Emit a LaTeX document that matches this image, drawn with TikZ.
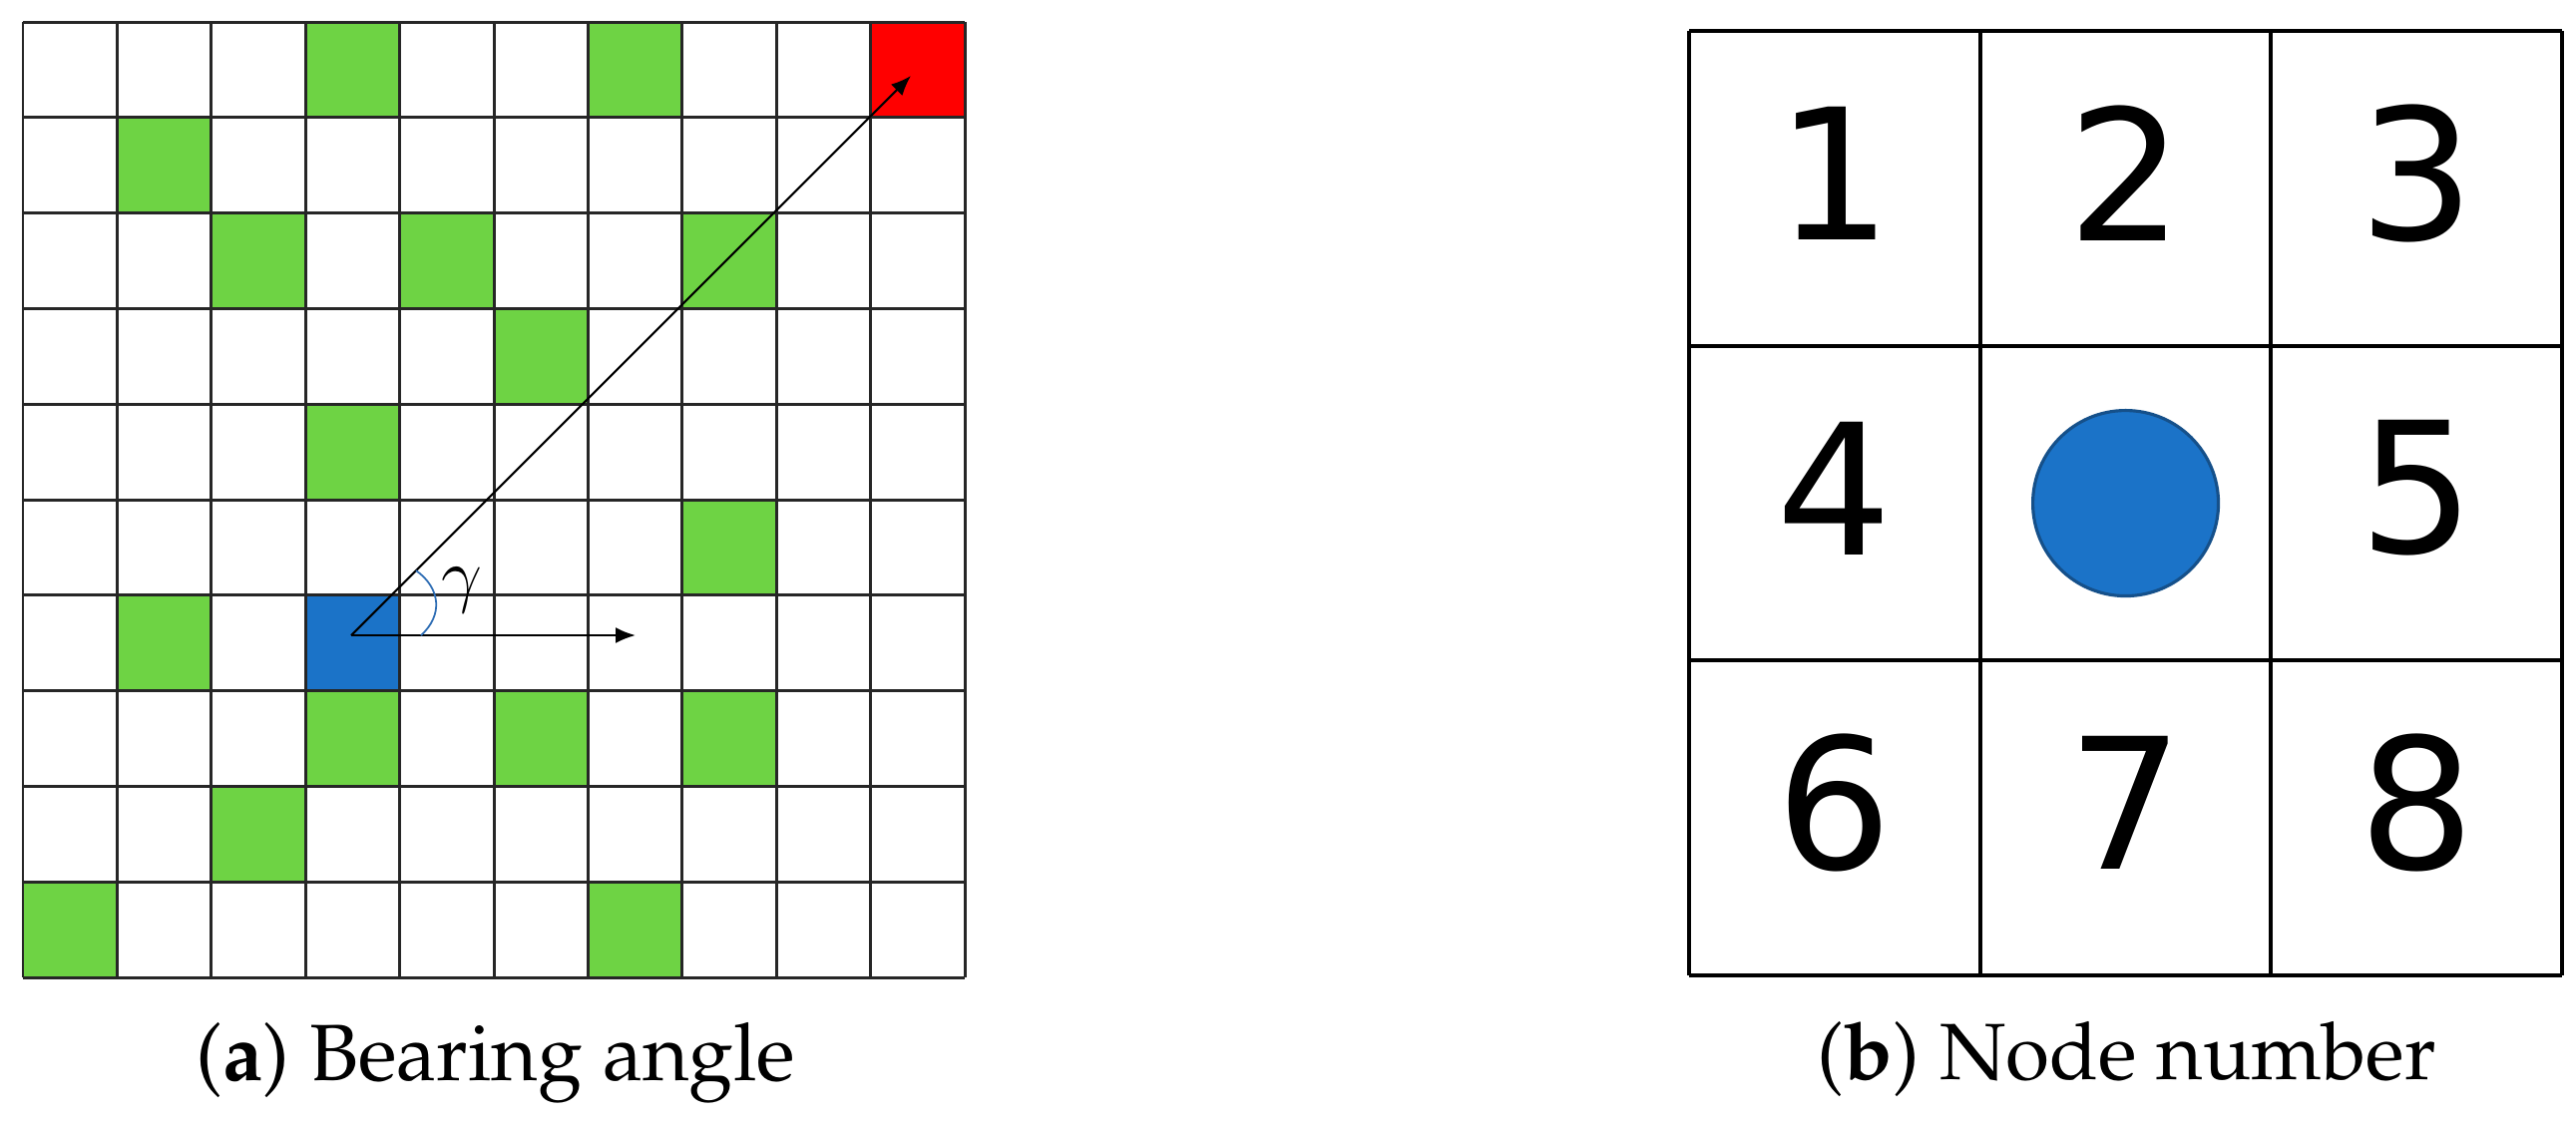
\documentclass[tikz,border=0pt]{standalone}
\usepackage[T1]{fontenc}
\usepackage{fontspec}
\newfontfamily\digitfont{DejaVu Sans}
\newcommand\capfont{\fontencoding{T1}\fontfamily{ppl}\selectfont}
\usetikzlibrary{arrows.meta}
\definecolor{cellgreen}{HTML}{6ED344}
\definecolor{cellblue}{HTML}{1B73C8}
\definecolor{cellred}{HTML}{FF0000}
\definecolor{dotedge}{HTML}{15508A}
\definecolor{arcblue}{HTML}{2E6DB4}
\tikzset{
  gridline/.style={line width=0.85pt, black!85},
  biggrid/.style={line width=1.15pt, black},
  vec/.style={line width=0.6pt, -{Latex[length=2mm,width=1.6mm]}},
  digit/.style={font=\digitfont\fontsize{52}{60}\selectfont, inner sep=0pt, anchor=center},
  caption/.style={font=\capfont\fontsize{22.8}{27}\selectfont, inner sep=0pt, anchor=base},
}
\begin{document}
\begin{tikzpicture}[x=0.1mm,y=-0.1mm]
\useasboundingbox (0,0) rectangle (2582,1124);
% ---------- (a) left grid ----------
\def\gx{23}\def\gy{22}\def\cw{94.4}\def\ch{95.8}
\foreach \c/\r in {3/0,6/0,1/1,2/2,4/2,7/2,5/3,3/4,7/5,1/6,3/7,5/7,7/7,2/8,0/9,6/9}
  \fill[cellgreen] ({\gx+\c*\cw},{\gy+\r*\ch}) rectangle ++(\cw,\ch);
\fill[cellred] ({\gx+9*\cw},{\gy}) rectangle ++(\cw,\ch);
\fill[cellblue] ({\gx+3*\cw},{\gy+6*\ch}) rectangle ++(\cw,\ch);
\foreach \i in {0,...,10} {
  \draw[gridline] ({\gx+\i*\cw},{\gy}) -- ({\gx+\i*\cw},{\gy+10*\ch});
  \draw[gridline] ({\gx},{\gy+\i*\ch}) -- ({\gx+10*\cw},{\gy+\i*\ch});
}
\coordinate (o) at (352,637);
\coordinate (t) at (913,76);
\coordinate (h) at (637,637);
\draw[vec] (o) -- (t);
\draw[vec] (o) -- (h);
\coordinate (a1) at (422,637);
\coordinate (a2) at (417,572);
\draw[arcblue, line width=0.5pt] (a1) .. controls (444,617) and (442,590) .. (a2);
\node[font=\fontsize{21}{24}\selectfont, inner sep=0pt] (gam) at (463,592) {$\gamma$};
\node[caption] (capa) at (497,1083) {(\textbf{a}) Bearing angle};
% ---------- (b) right grid ----------
\def\hx{1693}\def\hy{31}\def\hw{291.7}\def\hh{315.7}
\fill[cellblue, draw=dotedge, line width=0.9pt] ({\hx+1.5*\hw},{\hy+1.5*\hh}) circle (93);
\foreach \i in {0,...,3} {
  \draw[biggrid] ({\hx+\i*\hw},{\hy}) -- ({\hx+\i*\hw},{\hy+3*\hh});
  \draw[biggrid] ({\hx},{\hy+\i*\hh}) -- ({\hx+3*\hw},{\hy+\i*\hh});
}
\foreach \n/\c/\r in {1/0/0,2/1/0,3/2/0,4/0/1,5/2/1,6/0/2,7/1/2,8/2/2}
  \node[digit] (d\n) at ({\hx+(\c+0.5)*\hw},{\hy+(\r+0.5)*\hh-15}) {\n};
\node[caption] (capb) at (2132,1082) {(\textbf{b}) Node number};
\end{tikzpicture}
\end{document}
